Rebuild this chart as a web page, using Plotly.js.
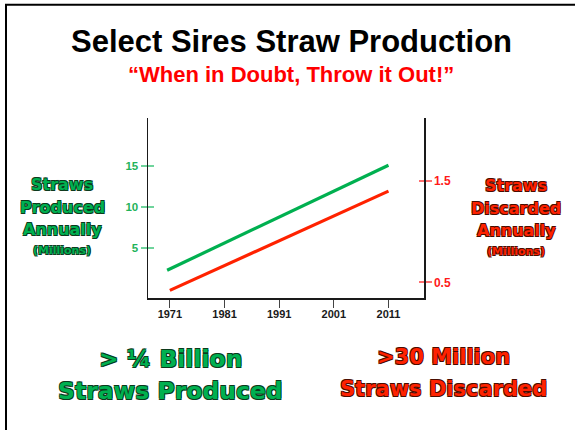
<!DOCTYPE html>
<html>
<head>
<meta charset="utf-8">
<script src="https://cdn.plot.ly/plotly-3.0.1.min.js"></script>
<style>html,body{margin:0;padding:0;background:#fff;}#chart{width:575px;height:430px;}</style>
</head>
<body>
<div id="chart"></div>
<script>
// ---- data ----
var producedYears = [1970.5, 2011];
var producedMillions = [2.25, 15.05];
var discardedYears = [1971, 2011];
var discardedMillions = [0.42, 1.40];
var yearTicks = [1971, 1981, 1991, 2001, 2011];
var producedTicks = [5, 10, 15];
var discardedTicks = [0.5, 1.5];

var titleText = "Select Sires Straw Production";
var subtitleText = "\u201CWhen in Doubt, Throw it Out!\u201D";
var leftLabel = ["Straws", "Produced", "Annually", "(Millions)"];
var rightLabel = ["Straws", "Discarded", "Annually", "(Millions)"];
var bottomLeft = ["> \u00BC Billion", "Straws Produced"];
var bottomRight = [">30 Million", "Straws Discarded"];

// ---- layout helpers (pixel -> paper) ----
var L = 148, R = 424, T = 118, B = 298;
function px(x) { return (x - L) / (R - L); }
function py(y) { return (B - y) / (B - T); }

var GREEN = "#00b050", RED = "#ff2200";
function outline(c) {
  var d = "0.75px";
  return d + " " + d + " 0 " + c + ", -" + d + " -" + d + " 0 " + c + ", " + d + " -" + d + " 0 " + c + ", -" + d + " " + d + " 0 " + c;
}

var annotations = [];
function addText(text, x, y, size, color, family, shadow) {
  var f = {family: family, size: size, color: color, weight: 700};
  if (shadow) f.shadow = shadow;
  annotations.push({text: text, x: px(x), y: py(y), xref: "paper", yref: "paper",
    xanchor: "center", yanchor: "middle", showarrow: false, font: f});
}
addText(titleText, 291, 41, 31, "#000000", "Liberation Sans, Arial, sans-serif");
addText(subtitleText, 291, 74.5, 22, "#ff0000", "Liberation Sans, Arial, sans-serif");

var sideY = [184.5, 207, 229, 250];
var sideSize = [16, 16, 16, 11];
for (var i = 0; i < 4; i++) {
  addText(leftLabel[i], 62, sideY[i], sideSize[i], GREEN, "DejaVu Sans, sans-serif", outline("#0b3a1c"));
  addText(rightLabel[i], 516, sideY[i] + 1, sideSize[i], RED, "DejaVu Sans, sans-serif", outline("#4a0c00"));
}
addText(bottomLeft[0], 170, 358.5, 23.5, GREEN, "DejaVu Sans, sans-serif", outline("#0b3a1c"));
addText(bottomLeft[1], 170, 391, 23.5, GREEN, "DejaVu Sans, sans-serif", outline("#0b3a1c"));
addText(bottomRight[0], 443, 357, 21, RED, "DejaVu Sans, sans-serif", outline("#4a0c00"));
addText(bottomRight[1], 443, 389, 21, RED, "DejaVu Sans, sans-serif", outline("#4a0c00"));

var traces = [
  {x: producedYears, y: producedMillions, type: "scatter", mode: "lines",
   line: {color: GREEN, width: 3.2}, yaxis: "y", hoverinfo: "skip"},
  {x: discardedYears, y: discardedMillions, type: "scatter", mode: "lines",
   line: {color: RED, width: 3.2}, yaxis: "y2", hoverinfo: "skip"}
];

var layout = {
  width: 575, height: 430,
  margin: {l: L, r: 575 - R, t: T, b: 430 - B, pad: 0},
  paper_bgcolor: "#ffffff", plot_bgcolor: "#ffffff",
  showlegend: false,
  xaxis: {
    range: [1967, 2017.5], tickvals: yearTicks, ticktext: yearTicks.map(String),
    showgrid: false, zeroline: false, showline: true, linecolor: "#1a1a1a", linewidth: 1.5,
    ticks: "outside", ticklen: 8, tickwidth: 1.2, tickcolor: "#444", ticklabelstandoff: -3,
    tickfont: {family: "Liberation Sans, Arial, sans-serif", size: 11, color: "#1a1a1a", weight: 700},
    fixedrange: true
  },
  yaxis: {
    range: [-1.13, 20.8], tickvals: producedTicks, ticktext: producedTicks.map(String),
    showgrid: false, zeroline: false, showline: true, linecolor: "#1a1a1a", linewidth: 1.5,
    ticks: "outside", ticklen: 6, tickwidth: 1.8, tickcolor: "#6fd49c",
    tickfont: {family: "Liberation Sans, Arial, sans-serif", size: 11.5, color: "#1fb35a", weight: 700},
    fixedrange: true
  },
  yaxis2: {
    range: [0.345, 2.122], tickvals: discardedTicks, ticktext: discardedTicks.map(String),
    overlaying: "y", side: "right",
    showgrid: false, zeroline: false, showline: true, linecolor: "#1a1a1a", linewidth: 1.5,
    ticks: "outside", ticklen: 6, tickwidth: 1.8, tickcolor: "#ff6f6f",
    tickfont: {family: "Liberation Sans, Arial, sans-serif", size: 12, color: "#ff1a1a", weight: 700},
    fixedrange: true
  },
  yaxis3: {
    range: [-1.13, 20.8], tickvals: producedTicks, overlaying: "y", side: "left",
    showgrid: false, zeroline: false, showline: false, showticklabels: false,
    ticks: "inside", ticklen: 6, tickwidth: 1.8, tickcolor: "#6fd49c", fixedrange: true
  },
  yaxis4: {
    range: [0.345, 2.122], tickvals: discardedTicks, overlaying: "y", side: "right",
    showgrid: false, zeroline: false, showline: false, showticklabels: false,
    ticks: "inside", ticklen: 5, tickwidth: 1.8, tickcolor: "#ff6f6f", fixedrange: true
  },
  shapes: [
    {type: "line", xref: "paper", yref: "paper", x0: px(5), x1: px(575), y0: py(4.8), y1: py(4.8),
     line: {color: "#000", width: 2}},
    {type: "line", xref: "paper", yref: "paper", x0: px(6), x1: px(6), y0: py(4), y1: py(430),
     line: {color: "#000", width: 2}}
  ],
  annotations: annotations
};

// invisible traces to activate the extra tick-only axes
traces.push({x: [yearTicks[0]], y: [producedTicks[0]], yaxis: "y3", type: "scatter", mode: "markers",
  marker: {opacity: 0}, hoverinfo: "skip"});
traces.push({x: [yearTicks[0]], y: [discardedTicks[0]], yaxis: "y4", type: "scatter", mode: "markers",
  marker: {opacity: 0}, hoverinfo: "skip"});

Plotly.newPlot("chart", traces, layout, {staticPlot: true, displayModeBar: false});
</script>
</body>
</html>
